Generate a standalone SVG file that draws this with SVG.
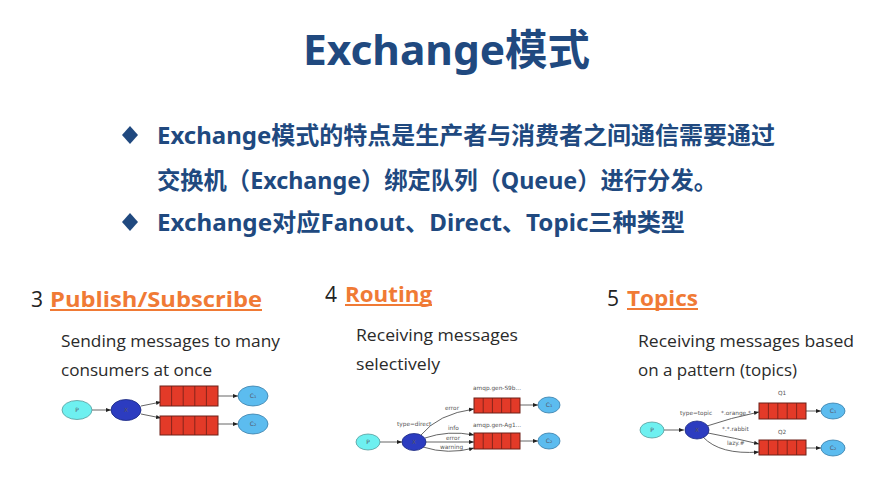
<svg xmlns="http://www.w3.org/2000/svg" width="890" height="498" viewBox="0 0 890 498">
<defs>
<style>
.title{font-family:"Noto Sans","Noto Sans CJK SC",sans-serif;font-weight:bold;fill:#20497f;}
.bul{font-family:"Noto Sans","Noto Sans CJK SC",sans-serif;font-weight:bold;font-size:24px;fill:#20497f;}
.num{font-family:"Open Sans",sans-serif;font-size:21px;fill:#222;}
.head{font-family:"Open Sans",sans-serif;font-weight:bold;font-size:20.5px;fill:#f07a35;}
.ul{stroke:#f07a35;stroke-width:2;}
.body{font-family:"Open Sans",sans-serif;font-size:16.5px;fill:#2a2a2a;}
.p{fill:#6ef0f0;stroke:#5a9a9a;stroke-width:0.8;}
.x{fill:#2c3cc0;stroke:#1c2a80;stroke-width:0.8;}
.c{fill:#5cbcef;stroke:#3a7ea8;stroke-width:0.8;}
.q{fill:#e33a28;stroke:#6e2018;stroke-width:1;}
.qd{stroke:#6e2018;stroke-width:0.8;}
.lbl{font-family:"DejaVu Sans",sans-serif;font-size:5.8px;fill:#555;}
.nl{font-family:"DejaVu Sans",sans-serif;font-size:6px;fill:#556;text-anchor:middle;}
.ed{fill:none;stroke:#555;stroke-width:0.9;marker-end:url(#ah);}
</style>
<marker id="ah" viewBox="0 0 10 10" refX="10" refY="5" markerWidth="5" markerHeight="5" orient="auto" markerUnits="userSpaceOnUse">
<path d="M0,1 L10,5 L0,9 z" fill="#222"/>
</marker>
</defs>
<rect width="890" height="498" fill="#fff"/>

<text class="title" x="303" y="65" font-size="42" textLength="287" lengthAdjust="spacingAndGlyphs">Exchange模式</text>

<g id="bullets">
<path d="M130,126 L138,135 L130,144 L122,135 z" fill="#20497f"/>
<text class="bul" x="157" y="144" textLength="618" lengthAdjust="spacingAndGlyphs">Exchange模式的特点是生产者与消费者之间通信需要通过</text>
<text class="bul" x="157" y="189" textLength="560" lengthAdjust="spacingAndGlyphs">交换机（Exchange）绑定队列（Queue）进行分发。</text>
<path d="M130,213 L138,222 L130,231 L122,222 z" fill="#20497f"/>
<text class="bul" x="157" y="231" textLength="528" lengthAdjust="spacingAndGlyphs">Exchange对应Fanout、Direct、Topic三种类型</text>
</g>

<g id="sec3-text">
<text class="num" x="31" y="307">3</text>
<text class="head" x="50" y="307" textLength="212" lengthAdjust="spacingAndGlyphs">Publish/Subscribe</text>
<line class="ul" x1="50" y1="310" x2="262" y2="310"/>
<text class="body" x="61" y="347" textLength="219" lengthAdjust="spacingAndGlyphs">Sending messages to many</text>
<text class="body" x="61" y="376" textLength="151" lengthAdjust="spacingAndGlyphs">consumers at once</text>
</g>
<g id="sec4-text">
<text class="num" x="325" y="302">4</text>
<text class="head" x="345" y="302" textLength="87" lengthAdjust="spacingAndGlyphs">Routing</text>
<line class="ul" x1="345" y1="305" x2="432" y2="305"/>
<text class="body" x="356" y="341" textLength="162" lengthAdjust="spacingAndGlyphs">Receiving messages</text>
<text class="body" x="356" y="370" textLength="84" lengthAdjust="spacingAndGlyphs">selectively</text>
</g>
<g id="sec5-text">
<text class="num" x="607" y="306">5</text>
<text class="head" x="627" y="306" textLength="71" lengthAdjust="spacingAndGlyphs">Topics</text>
<line class="ul" x1="627" y1="309" x2="698" y2="309"/>
<text class="body" x="638" y="347" textLength="216" lengthAdjust="spacingAndGlyphs">Receiving messages based</text>
<text class="body" x="638" y="376" textLength="159" lengthAdjust="spacingAndGlyphs">on a pattern (topics)</text>
</g>

<!-- Diagram 1 -->
<g id="d1-connectors">
<line class="ed" x1="92" y1="410" x2="111" y2="410"/>
<path class="ed" d="M141,406 L161,402"/>
<path class="ed" d="M141,414 L161,418"/>
<line class="ed" x1="218" y1="396" x2="238" y2="396"/>
<line class="ed" x1="218" y1="424" x2="238" y2="424"/>
</g>
<g id="d1-P"><ellipse class="p" cx="77" cy="410" rx="15" ry="9.5"/><text class="nl" x="77" y="412">P</text></g>
<g id="d1-X"><ellipse class="x" cx="126" cy="410" rx="15" ry="10.5"/><text class="nl" x="126" y="412" fill="#223">X</text></g>
<g id="d1-Q1"><rect class="q" x="160" y="386" width="58" height="20"/><path class="qd" d="M171.6,386v20M183.2,386v20M194.8,386v20M206.4,386v20"/></g>
<g id="d1-Q2"><rect class="q" x="160" y="416" width="58" height="19"/><path class="qd" d="M171.6,416v19M183.2,416v19M194.8,416v19M206.4,416v19"/></g>
<g id="d1-C1"><ellipse class="c" cx="253" cy="396" rx="15" ry="10"/><text class="nl" x="253" y="398">C₁</text></g>
<g id="d1-C2"><ellipse class="c" cx="253" cy="424" rx="15" ry="10"/><text class="nl" x="253" y="426">C₂</text></g>

<!-- Diagram 2 -->
<g id="d2-connectors">
<line class="ed" x1="380" y1="442" x2="402" y2="442"/>
<path class="ed" d="M421,435 Q438,414 474,409"/>
<path class="ed" d="M425,438 Q448,430 474,435"/>
<path class="ed" d="M426,442 L474,442"/>
<path class="ed" d="M423,447 Q448,455 474,448"/>
<line class="ed" x1="520" y1="405" x2="538" y2="405"/>
<line class="ed" x1="520" y1="441" x2="538" y2="441"/>
<text class="lbl" x="445" y="410">error</text>
<text class="lbl" x="397" y="426">type=direct</text>
<text class="lbl" x="448" y="430">info</text>
<text class="lbl" x="446" y="440">error</text>
<text class="lbl" x="440" y="449">warning</text>
<text class="lbl" x="473" y="390">amqp.gen-S9b...</text>
<text class="lbl" x="473" y="427">amqp.gen-Ag1...</text>
</g>
<g id="d2-P"><ellipse class="p" cx="368" cy="442" rx="12" ry="8"/><text class="nl" x="368" y="444">P</text></g>
<g id="d2-X"><ellipse class="x" cx="414" cy="442" rx="12" ry="8.5"/><text class="nl" x="414" y="444" fill="#223">X</text></g>
<g id="d2-Q1"><rect class="q" x="474" y="398" width="46" height="15"/><path class="qd" d="M483.2,398v15M492.4,398v15M501.6,398v15M510.8,398v15"/></g>
<g id="d2-Q2"><rect class="q" x="474" y="433" width="46" height="16"/><path class="qd" d="M483.2,433v16M492.4,433v16M501.6,433v16M510.8,433v16"/></g>
<g id="d2-C1"><ellipse class="c" cx="549" cy="405" rx="11" ry="8"/><text class="nl" x="549" y="407">C₁</text></g>
<g id="d2-C2"><ellipse class="c" cx="549" cy="441" rx="11" ry="8"/><text class="nl" x="549" y="443">C₂</text></g>

<!-- Diagram 3 -->
<g id="d3-connectors">
<line class="ed" x1="664" y1="430" x2="684" y2="430"/>
<path class="ed" d="M707,426 Q730,418 759,412"/>
<path class="ed" d="M708,433 Q735,438 759,444"/>
<path class="ed" d="M703,437 Q720,455 759,452"/>
<line class="ed" x1="806" y1="411" x2="821" y2="411"/>
<line class="ed" x1="806" y1="448" x2="821" y2="448"/>
<text class="lbl" x="680" y="415">type=topic</text>
<text class="lbl" x="721" y="415">*.orange.*</text>
<text class="lbl" x="722" y="431">*.*.rabbit</text>
<text class="lbl" x="727" y="445">lazy.#</text>
<text class="lbl" x="778" y="395">Q1</text>
<text class="lbl" x="778" y="434">Q2</text>
</g>
<g id="d3-P"><ellipse class="p" cx="652" cy="430" rx="12" ry="8"/><text class="nl" x="652" y="432">P</text></g>
<g id="d3-X"><ellipse class="x" cx="697" cy="430" rx="12" ry="9"/><text class="nl" x="697" y="432" fill="#223">X</text></g>
<g id="d3-Q1"><rect class="q" x="759" y="403" width="47" height="16"/><path class="qd" d="M768.4,403v16M777.8,403v16M787.2,403v16M796.6,403v16"/></g>
<g id="d3-Q2"><rect class="q" x="759" y="440" width="47" height="15"/><path class="qd" d="M768.4,440v15M777.8,440v15M787.2,440v15M796.6,440v15"/></g>
<g id="d3-C1"><ellipse class="c" cx="833" cy="411" rx="12" ry="8"/><text class="nl" x="833" y="413">C₁</text></g>
<g id="d3-C2"><ellipse class="c" cx="833" cy="448" rx="12" ry="8"/><text class="nl" x="833" y="450">C₂</text></g>
</svg>
